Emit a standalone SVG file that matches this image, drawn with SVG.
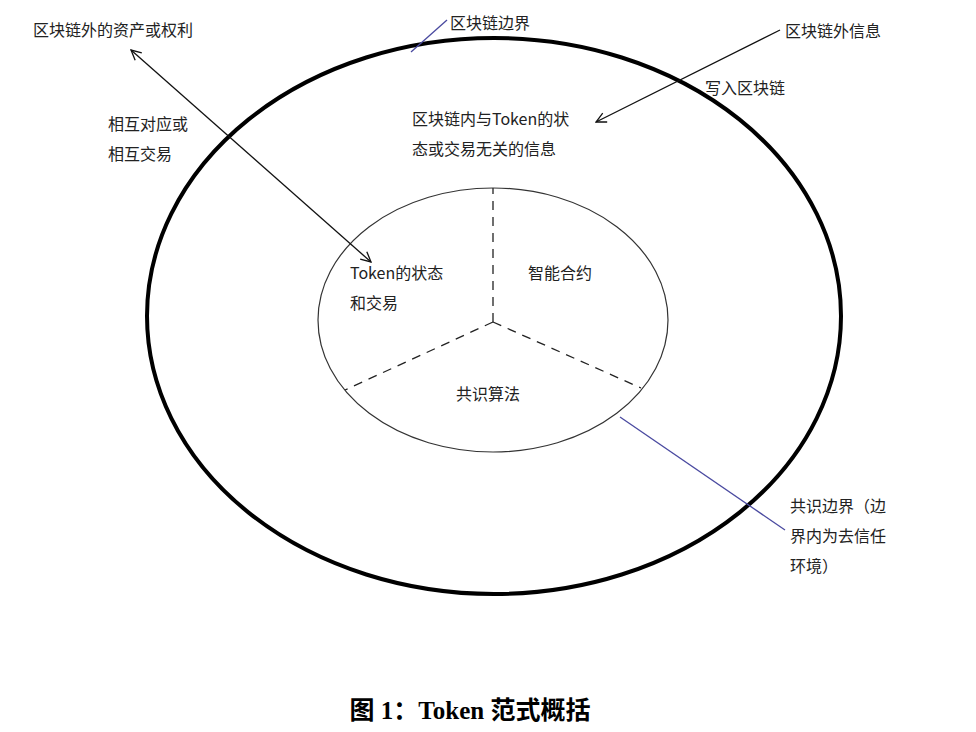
<svg xmlns="http://www.w3.org/2000/svg" width="976" height="732" viewBox="0 0 976 732">
<style>
text{font-family:"Noto Sans CJK SC","Noto Sans",sans-serif;font-size:16px;fill:#222}
.d{stroke:#222;stroke-width:1.3;stroke-dasharray:9,7;fill:none}
.b{stroke:#4a4aa0;stroke-width:1.3;fill:none}
.a{stroke:#111;stroke-width:1.3;fill:none}
</style>
<defs>
<marker id="h" viewBox="0 0 12 12" refX="11" refY="6" markerWidth="12" markerHeight="12" markerUnits="userSpaceOnUse" orient="auto-start-reverse"><path d="M1,1 L11,6 L1,11" fill="none" stroke="#111" stroke-width="1.3"/></marker>
</defs>
<rect width="976" height="732" fill="#fff"/>
<g id="outer"><ellipse cx="494" cy="316" rx="347" ry="278" fill="none" stroke="#000" stroke-width="4"/></g>
<g id="inner"><ellipse cx="493" cy="320" rx="175" ry="132" fill="none" stroke="#333" stroke-width="1.2"/></g>
<g id="connectors">
<line class="d" x1="493" y1="322" x2="493" y2="188"/>
<line class="d" x1="493" y1="322" x2="345" y2="390"/>
<line class="d" x1="493" y1="322" x2="641" y2="388"/>
<line class="b" x1="411" y1="52" x2="447" y2="20"/>
<line class="b" x1="620" y1="417" x2="785" y2="530"/>
<line class="a" x1="131" y1="50" x2="371" y2="262" marker-start="url(#h)" marker-end="url(#h)"/>
<line class="a" x1="780" y1="30" x2="596" y2="122" marker-end="url(#h)"/>
</g>
<g id="labels">
<text x="33" y="36">区块链外的资产或权利</text>
<text x="450" y="29">区块链边界</text>
<text x="785" y="37">区块链外信息</text>
<text x="705" y="94">写入区块链</text>
<text x="108" y="130">相互对应或</text>
<text x="108" y="160">相互交易</text>
<text x="412" y="125">区块链内与Token的状</text>
<text x="412" y="155">态或交易无关的信息</text>
<text x="350" y="279">Token的状态</text>
<text x="350" y="309">和交易</text>
<text x="528" y="279">智能合约</text>
<text x="456" y="400">共识算法</text>
<text x="790" y="512">共识边界（边</text>
<text x="790" y="542">界内为去信任</text>
<text x="790" y="572">环境）</text>
<text x="470" y="719" text-anchor="middle" style="font-family:'Liberation Serif','Noto Sans CJK SC',serif;font-size:25px;font-weight:bold;fill:#000">图 1：Token 范式概括</text>
</g>
</svg>
